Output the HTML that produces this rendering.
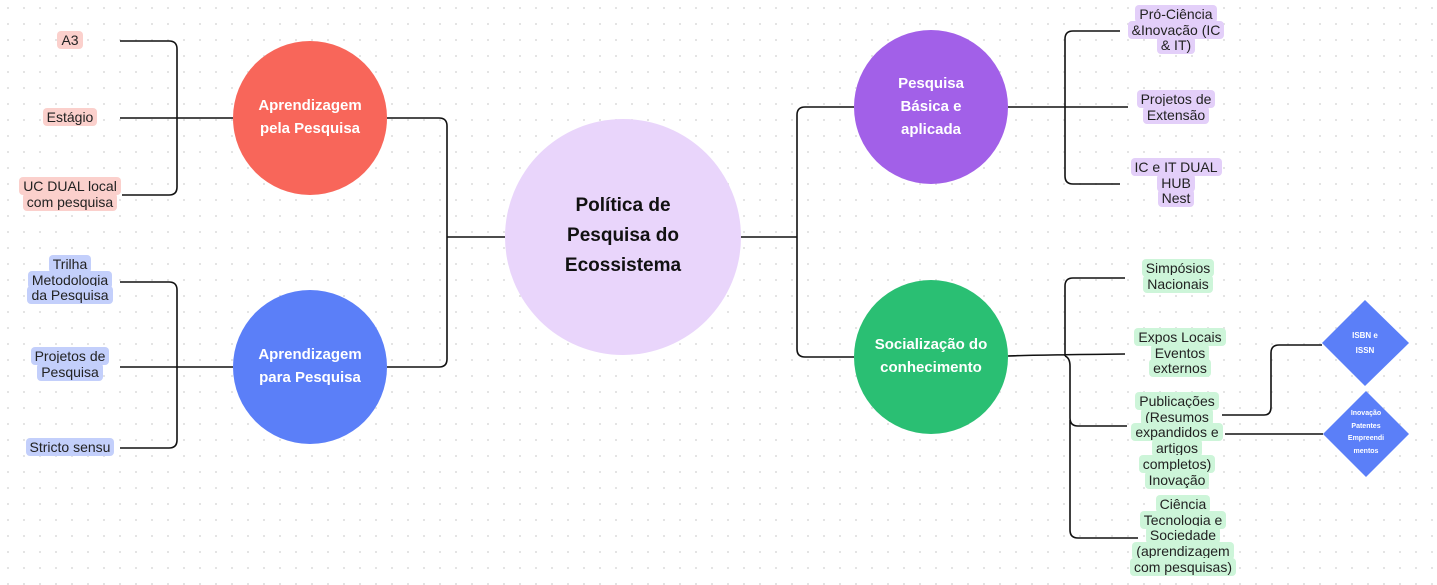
<!DOCTYPE html>
<html><head><meta charset="utf-8"><style>
html,body{margin:0;padding:0}
body{width:1437px;height:585px;position:relative;overflow:hidden;background:#fff;
background-image:radial-gradient(#e2e2e2 1px,transparent 1.2px);background-size:16px 16px;
font-family:"Liberation Sans",sans-serif}
svg{position:absolute;left:0;top:0}
.l{position:absolute;width:200px;text-align:center;font-size:14px;line-height:15.7px;color:#222}
.l span{padding:1px 4px;border-radius:4px;-webkit-box-decoration-break:clone;box-decoration-break:clone}
.r span{background:#fbd0cc}.b span{background:#c3cffb}.p span{background:#e3cff9}.g span{background:#cdf5d9}
.c{position:absolute;text-align:center;color:#fff;font-weight:bold;font-size:15px;line-height:23px;width:160px}
</style></head><body>
<svg width="1437" height="585" fill="none" stroke="#111" stroke-width="1.6">
<path d="M505 237 H447 M447 237 Q447 229 447 226 V126 Q447 118 439 118 H387"/>
<path d="M447 237 V359 Q447 367 439 367 H387"/>
<path d="M740 237 H797 M797 237 V115 Q797 107 805 107 H854"/>
<path d="M797 237 V349 Q797 357 805 357 H854"/>
<path d="M233 118 H120 M177 118 V49 Q177 41 169 41 H120 M177 118 V187 Q177 195 169 195 H122"/>
<path d="M233 367 H120 M177 367 V440 Q177 448 169 448 H120 M177 367 V290 Q177 282 169 282 H120"/>
<path d="M1008 107 H1128 M1065 107 V39 Q1065 31 1073 31 H1120 M1065 107 V176 Q1065 184 1073 184 H1120"/>
<path d="M1008 356 Q1030 355 1125 354 M1065 356 V286 Q1065 278 1073 278 H1125 M1065 356 Q1070 358 1070 366 V418 Q1070 426 1078 426 H1127 M1070 420 V530 Q1070 538 1078 538 H1138"/>
<path d="M1222 415 H1264 Q1271 415 1271 407 V353 Q1271 345 1279 345 H1322"/>
<path d="M1225 434 H1323"/>
<g stroke="none">
<circle cx="623" cy="237" r="118" fill="#e9d5fb"/>
<circle cx="310" cy="118" r="77" fill="#f8665a"/>
<circle cx="310" cy="367" r="77" fill="#5b7ff8"/>
<circle cx="931" cy="107" r="77" fill="#a260e8"/>
<circle cx="931" cy="357" r="77" fill="#2abf73"/>
<polygon points="1365,300 1409,343 1365,386 1322,343" fill="#5b7ff8"/>
<polygon points="1366,391 1409,434 1366,477 1323,434" fill="#5b7ff8"/>
</g>
</svg>
<div class="c" style="left:543px;top:191px;color:#111;font-size:19px;line-height:30px">Política de<br>Pesquisa do<br>Ecossistema</div>
<div class="c" style="left:230px;top:94px">Aprendizagem<br>pela Pesquisa</div>
<div class="c" style="left:230px;top:343px">Aprendizagem<br>para Pesquisa</div>
<div class="c" style="left:851px;top:72px">Pesquisa<br>Básica e<br>aplicada</div>
<div class="c" style="left:851px;top:333px">Socialização do<br>conhecimento</div>
<div class="c" style="left:1305px;top:328px;width:120px;font-size:8px;line-height:15px">ISBN e<br>ISSN</div>
<div class="c" style="left:1306px;top:408px;width:120px;font-size:7px;line-height:12.7px">Inovação<br>Patentes<br>Empreendi<br>mentos</div>
<div class="l r" style="left:-30px;top:33px"><span>A3</span></div>
<div class="l r" style="left:-30px;top:110px"><span>Estágio</span></div>
<div class="l r" style="left:-30px;top:179px"><span>UC DUAL local<br>com pesquisa</span></div>
<div class="l b" style="left:-30px;top:257px"><span>Trilha<br>Metodologia<br>da Pesquisa</span></div>
<div class="l b" style="left:-30px;top:349px"><span>Projetos de<br>Pesquisa</span></div>
<div class="l b" style="left:-30px;top:440px"><span>Stricto sensu</span></div>
<div class="l p" style="left:1076px;top:7px"><span>Pró-Ciência<br>&amp;Inovação (IC<br>&amp; IT)</span></div>
<div class="l p" style="left:1076px;top:92px"><span>Projetos de<br>Extensão</span></div>
<div class="l p" style="left:1076px;top:160px"><span>IC e IT DUAL<br>HUB<br>Nest</span></div>
<div class="l g" style="left:1078px;top:261px"><span>Simpósios<br>Nacionais</span></div>
<div class="l g" style="left:1080px;top:330px"><span>Expos Locais<br>Eventos<br>externos</span></div>
<div class="l g" style="left:1077px;top:394px"><span>Publicações<br>(Resumos<br>expandidos e<br>artigos<br>completos)<br>Inovação</span></div>
<div class="l g" style="left:1083px;top:497px"><span>Ciência<br>Tecnologia e<br>Sociedade<br>(aprendizagem<br>com pesquisas)</span></div>
</body></html>
